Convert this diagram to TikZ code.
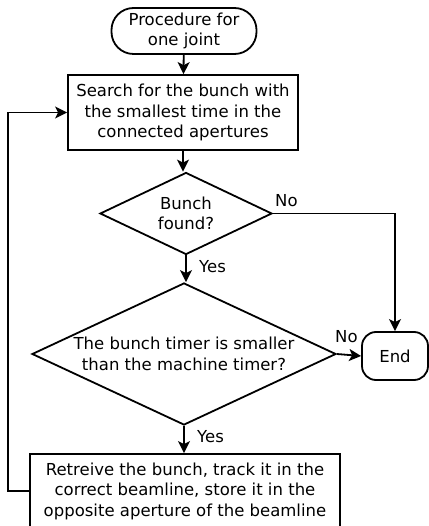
\documentclass[tikz,border=0pt]{standalone}
\usepackage{fontspec}
\setmainfont{DejaVu Sans}
\usetikzlibrary{shapes.geometric,arrows.meta}
\begin{document}
\begin{tikzpicture}[x=1pt,y=-1pt,
  every node/.style={font=\fontsize{16.5}{20.5}\selectfont, align=center, inner sep=0pt},
  arr/.style={line width=1.8pt,-{Stealth[length=12pt,width=12pt,inset=3pt]}},
  boxnode/.style={draw,line width=1.8pt,rectangle},
  decision/.style={draw,line width=1.8pt,diamond},
  terminal/.style={draw,line width=1.8pt,rectangle,rounded corners=14pt},
  lbl/.style={font=\fontsize{16.5}{18}\selectfont}
]
\useasboundingbox (0,0) rectangle (428,526);
\node[terminal, rounded corners=22pt, minimum width=145pt, minimum height=46pt] (start) at (184,31) {Procedure for\\one joint};
\node[boxnode, minimum width=230pt, minimum height=75pt] (search) at (183,112.5) {Search for the bunch with\\the smallest time in the\\connected apertures};
\node[decision, minimum width=172pt, minimum height=82pt] (d1) at (186,213.5) {};
\node (d1t) at (d1) {Bunch\\found?};
\node[decision, minimum width=304pt, minimum height=142pt] (d2) at (184,354) {};
\node (d2t) at (d2) {The bunch timer is smaller\\than the machine timer?};
\node[terminal, minimum width=66pt, minimum height=48pt] (end) at (395,356) {End};
\node[boxnode, minimum width=310pt, minimum height=74pt] (ret) at (185,491) {Retreive the bunch, track it in the\\correct beamline, store it in the\\opposite aperture of the beamline};
\coordinate (c1) at (end.north |- d1.east);
\coordinate (l1) at (8,491);
\coordinate (l2) at (8,112.5);
\draw[arr] (start) -- (search);
\draw[arr] (search) -- (search |- d1.north);
\draw[arr] (d1.south) -- (d1.south |- d2.north);
\draw[arr] (d2.south) -- (d2.south |- ret.north);
\draw[arr] (d1.east) -- (c1) -- (end.north);
\draw[arr] (d2.east) -- (end.west);
\draw[arr] (ret.west) -- (l1) -- (l2) -- (search.west);
\node[lbl, anchor=west] (no1) at (275,201) {No};
\node[lbl, anchor=west] (no2) at (335,337) {No};
\node[lbl, anchor=west] (yes1) at (199,267) {Yes};
\node[lbl, anchor=west] (yes2) at (197,437) {Yes};
\end{tikzpicture}
\end{document}
